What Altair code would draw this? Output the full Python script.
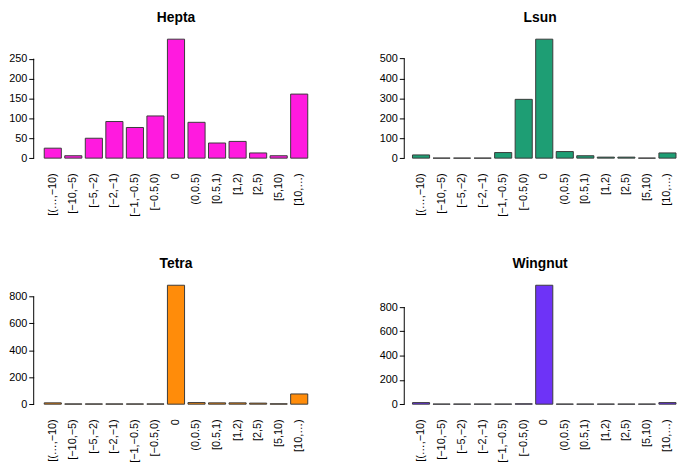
import altair as alt
import pandas as pd

categories = ["[(…,−10)", "[−10,−5)", "[−5,−2)", "[−2,−1)", "[−1,−0.5)", "[−0.5,0)",
              "0", "(0,0.5)", "[0.5,1)", "[1,2)", "[2,5)", "[5,10)", "[10,…)"]

hepta = [25, 6, 50, 92, 77, 106, 299, 90, 38, 42, 13, 6, 161]
lsun = [16, 0, 0, 0, 28, 295, 597, 33, 12, 5, 5, 0, 26]
tetra = [10, 2, 2, 2, 2, 2, 884, 12, 10, 10, 8, 3, 76]
wingnut = [13, 1, 1, 1, 1, 3, 980, 1, 1, 1, 1, 1, 13]

hepta_ticks = [0, 50, 100, 150, 200, 250]
lsun_ticks = [0, 100, 200, 300, 400, 500]
tetra_ticks = [0, 200, 400, 600, 800]
wingnut_ticks = [0, 200, 400, 600, 800]

titles = ["Hepta", "Lsun", "Tetra", "Wingnut"]
colors = ["#FF1ADF", "#1E9E74", "#FF8C0A", "#6E33F7"]

FONT = "Liberation Sans"
P_INNER = 0.2 / 1.2


def panel(title, values, ticks, color, width, p_outer, align):
    df = pd.DataFrame({"cat": categories, "n": values})
    m = max(values)
    yscale = alt.Scale(domain=[-0.04 * m, 1.04 * m], nice=False, zero=False)
    yaxis = alt.Axis(values=ticks, domain=False, grid=False, tickSize=5,
                     tickColor="#000000", labelPadding=2, labelFont=FONT,
                     labelFontSize=11, labelColor="#000000",
                     labelOverlap=False, labelFlush=False)
    bars = alt.Chart(df).mark_bar(
        color=color, stroke="#3a3a3a", strokeWidth=1
    ).encode(
        x=alt.X("cat:N", sort=categories, title=None,
                scale=alt.Scale(paddingInner=P_INNER, paddingOuter=p_outer, align=align),
                axis=alt.Axis(labelAngle=-90, domain=False, ticks=False, labelPadding=10,
                              labelFont=FONT, labelFontSize=11, labelColor="#000000",
                              labelBaseline="middle", labelOverlap=False)),
        y=alt.Y("n:Q", scale=yscale, title=None, axis=yaxis),
    )
    axis_df = pd.DataFrame({"lo": [ticks[0]], "hi": [ticks[-1]]})
    rule = alt.Chart(axis_df).mark_rule(color="#000000", strokeWidth=1).encode(
        x=alt.value(0),
        y=alt.Y("lo:Q", scale=yscale, title=None, axis=yaxis),
        y2="hi:Q",
    )
    return alt.layer(bars, rule).properties(
        width=width, height=130,
        title=alt.TitleParams(title, fontSize=14, fontWeight="bold", font=FONT,
                              offset=10, anchor="middle", color="#000000"),
    )


WL, WR = 288, 275
left_po, left_al = 0.513, 0.5
right_po, right_al = 0.2, 1.0

p1 = panel(titles[0], hepta, hepta_ticks, colors[0], WL, left_po, left_al)
p2 = panel(titles[1], lsun, lsun_ticks, colors[1], WR, right_po, right_al)
p3 = panel(titles[2], tetra, tetra_ticks, colors[2], WL, left_po, left_al)
p4 = panel(titles[3], wingnut, wingnut_ticks, colors[3], WR, right_po, right_al)

chart = alt.vconcat(
    alt.hconcat(p1, p2, spacing=61),
    alt.hconcat(p3, p4, spacing=61),
    spacing=40,
).properties(padding=0).configure_view(strokeWidth=0)

chart.save("out.html", embed_options={"renderer": "svg", "actions": False})
